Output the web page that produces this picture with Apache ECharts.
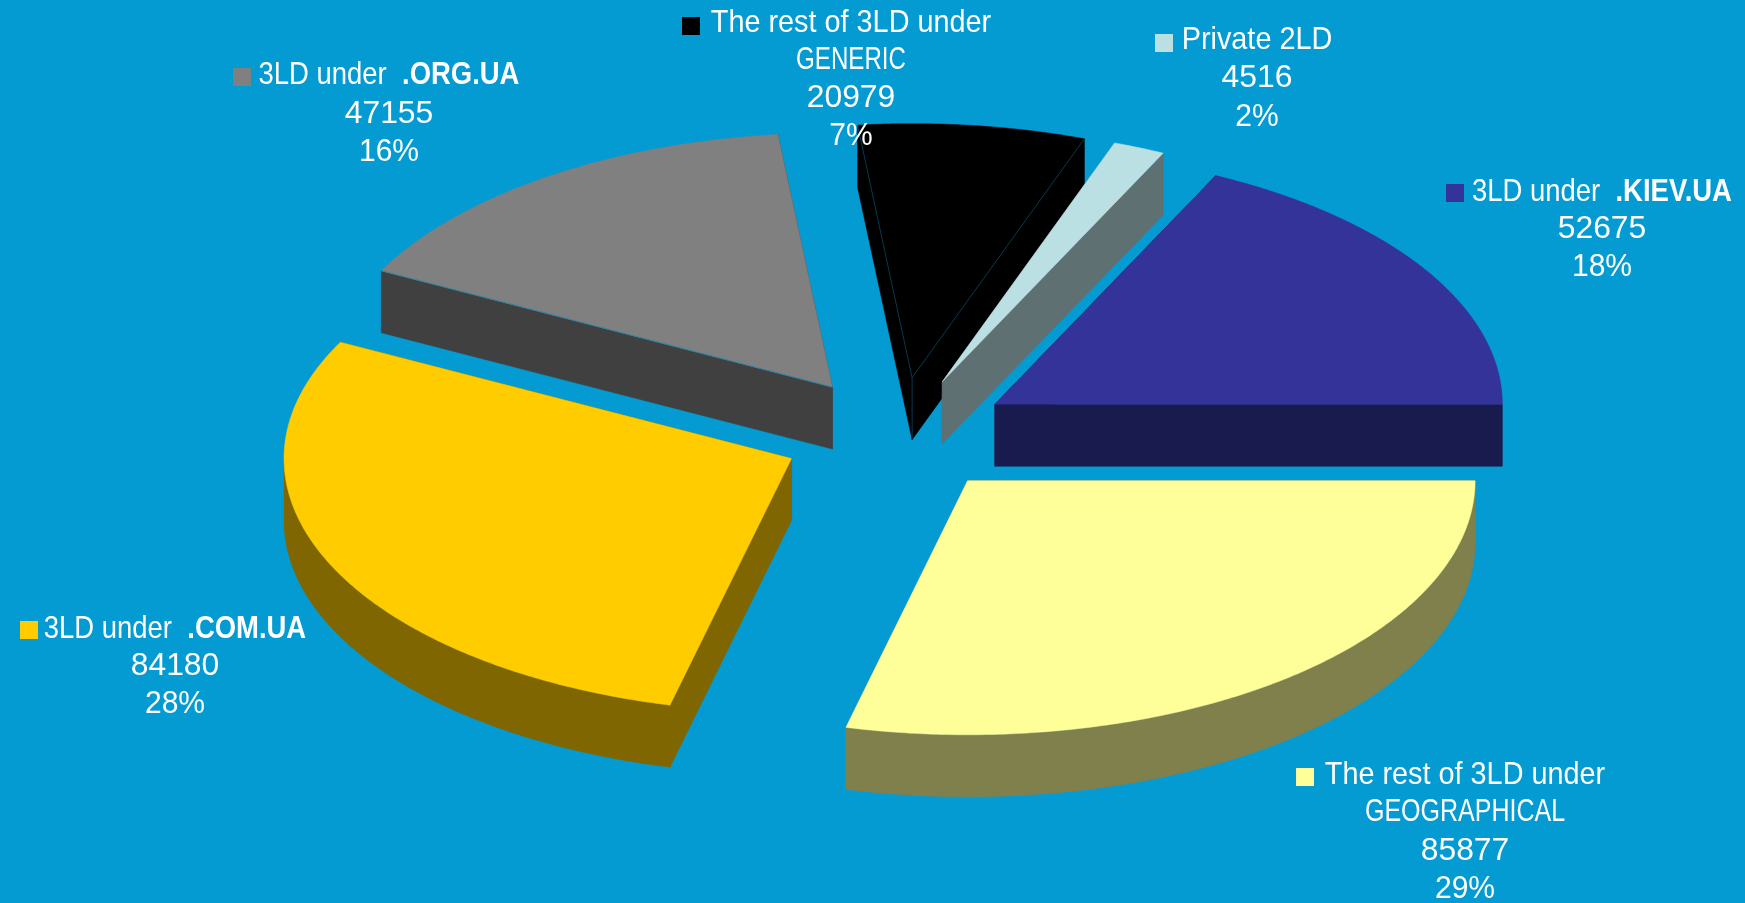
<!DOCTYPE html>
<html><head><meta charset="utf-8">
<style>html,body{margin:0;padding:0;background:#049BD3;overflow:hidden}#c{width:1745px;height:903px}</style>
<script src="https://cdn.jsdelivr.net/npm/echarts@6/dist/echarts.min.js"></script>
</head><body><div id="c"></div>
<script>
// data
const plainNames = ['The rest of 3LD under','3LD under  ','3LD under  ','The rest of 3LD under','Private 2LD','3LD under  '];
const boldNames  = ['','.COM.UA','.ORG.UA','','','.KIEV.UA'];
const secondLines = ['GEOGRAPHICAL','','','GENERIC','',''];
const values = [85877,84180,47155,20979,4516,52675];
const percents = ['29%','28%','16%','7%','2%','18%'];
// styles
const topColors  = ['#FFFF99','#FFCC00','#808080','#000000','#BBE0E3','#333399'];
const wallColors = ['#80804D','#806600','#404040','#000000','#5E7072','#191A4D'];
const seamColors = [null,null,'#2A86AA','#06384C',null,null];
const seamEdges  = [[],[],[0],[0,1,2],[],[]];
// layout
const CX=897,CY=435,RX=507.5,RY=254,EXPLODE=115.5,DEPTH=62;
const boundaryNudge=[0,-0.8,0,-0.9,-0.45,0,0]; // perspective correction of slice boundaries, degrees
const FONT=30.5;
const labelX=[1465,175,389,851,1257,1602];
const labelY=[[776,813,852,890],[630,667,705],[76,115,153],[24,61,99,137],[41,79,118],[193,230,268]];
const keyX=[1296,20,233,682,1155,1446];
const keyY=[768,621,68,17,34,184];
const titleScale=[0.945,0.9,0.9,0.945,0.945,0.9];
const numScale=1.045, pctScale=0.985, wideScale=[0.82,1,1,0.79,1,1];

const total=values.reduce((a,b)=>a+b,0);
const rad=d=>d*Math.PI/180;
function renderSlice(params,api){
  const i=params.dataIndex, v=api.value(1);
  let before=0; for(let k=0;k<i;k++) before+=values[k];
  const s0=before/total*360, e0=s0+v/total*360, m=(s0+e0)/2;
  const s=s0+boundaryNudge[i], e=e0+boundaryNudge[i+1];
  const ax=CX+EXPLODE*Math.cos(rad(m)), ay=CY+EXPLODE*(RY/RX)*Math.sin(rad(m));
  const P=t=>[ax+RX*Math.cos(rad(t)), ay+RY*Math.sin(rad(t))];
  const dn=p=>[p[0],p[1]+DEPTH];
  const top=[[ax,ay]]; for(let t=s;t<e;t+=0.5) top.push(P(t)); top.push(P(e));
  const kids=[];
  const poly=(pts,fill)=>kids.push({type:'polygon',shape:{points:pts},style:{fill:fill,stroke:fill,lineWidth:0.5}});
  const wc=wallColors[i];
  [s,e].forEach(t=>{const p=P(t);poly([[ax,ay],p,dn(p),[ax,ay+DEPTH]],wc);});
  const a0=Math.max(s,0),a1=Math.min(e,180);
  if(a1>a0){const up=[],low=[];for(let t=a0;t<a1;t+=0.5){up.push(P(t));low.unshift(dn(P(t)));}up.push(P(a1));low.unshift(dn(P(a1)));poly(up.concat(low),wc);}
  poly(top,topColors[i]);
  const edges=[[[ax,ay],P(s)],[[ax,ay],P(e)],[[ax,ay],[ax,ay+DEPTH]]];
  seamEdges[i].forEach(k=>kids.push({type:'polyline',shape:{points:edges[k]},style:{stroke:seamColors[i],lineWidth:1,fill:null}}));
  return {type:'group',children:kids};
}
function renderLabel(params,api){
  const i=params.dataIndex, kids=[], ys=labelY[i], x=labelX[i];
  const txt=(text,y,sc,rich)=>kids.push({type:'text',x:x,y:y,scaleX:sc,style:Object.assign({text:text,fill:'#fff',font:FONT+'px "Liberation Sans",Arial,sans-serif',align:'center',verticalAlign:'middle'},rich?{rich:rich}:{})});
  const title=boldNames[i]?('{p|'+plainNames[i]+'}{b|'+boldNames[i]+'}'):plainNames[i];
  txt(title,ys[0],titleScale[i],boldNames[i]?{p:{fontSize:FONT,fontFamily:'Liberation Sans',fill:'#fff',align:'center'},b:{fontSize:FONT,fontFamily:'Liberation Sans',fontWeight:'bold',fill:'#fff',align:'center'}}:null);
  let n=1;
  if(secondLines[i]){txt(secondLines[i],ys[n],wideScale[i]);n++;}
  txt(String(api.value(1)),ys[n],numScale);n++;
  txt(percents[i],ys[n],pctScale);
  kids.push({type:'rect',shape:{x:keyX[i],y:keyY[i],width:18,height:18},style:{fill:topColors[i]}});
  return {type:'group',children:kids};
}
const chart=echarts.init(document.getElementById('c'),null,{renderer:'canvas',width:1745,height:903});
const rows=values.map((v,i)=>[i,v]);
chart.setOption({
  animation:false,backgroundColor:'#049BD3',
  series:[
    {type:'custom',coordinateSystem:'none',silent:true,z:2,clip:false,renderItem:renderSlice,data:rows},
    {type:'custom',coordinateSystem:'none',silent:true,z:5,clip:false,renderItem:renderLabel,data:rows}
  ]
});
</script></body></html>
